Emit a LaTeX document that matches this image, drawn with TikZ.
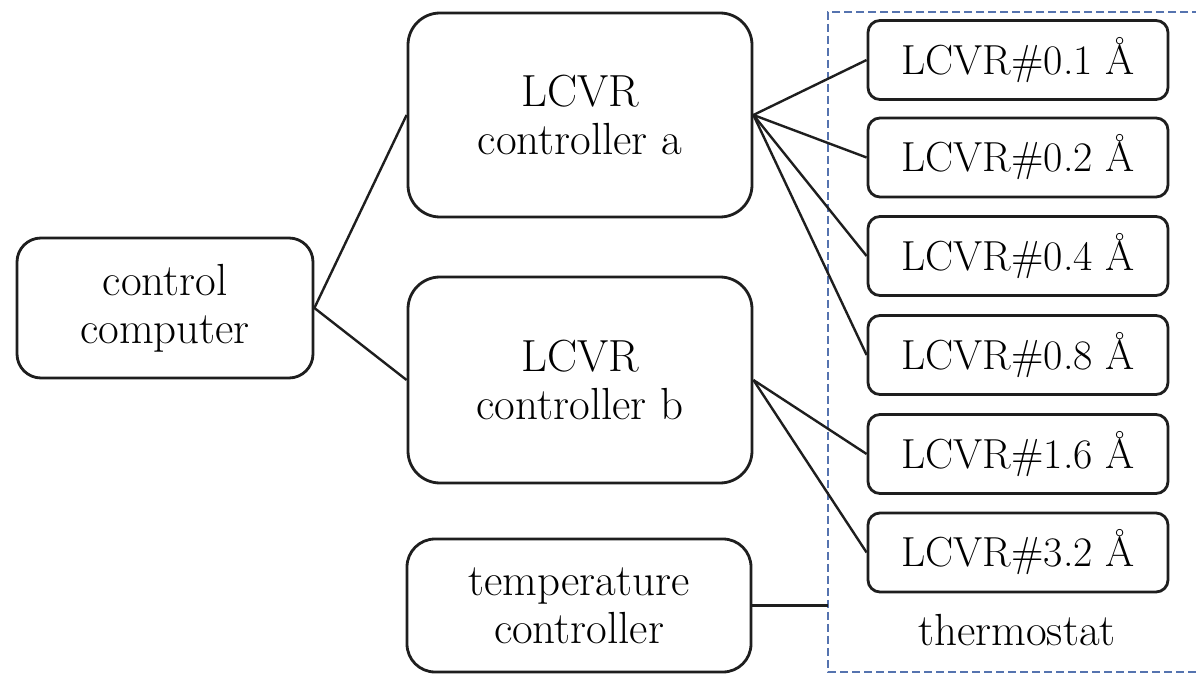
\documentclass[tikz,border=0pt]{standalone}
\usepackage{fontspec}
\definecolor{dashblue}{RGB}{85,115,175}
\definecolor{linegray}{RGB}{30,30,30}
\begin{document}
\begin{tikzpicture}[x=0.5pt,y=-0.5pt,
  txt/.style={font=\fontsize{22.5}{24}\selectfont\addfontfeatures{FakeBold=0.4}, text=black},
  bigbox/.style={txt, draw=linegray, line width=1.4pt, align=center, inner sep=0pt, minimum width=172pt},
  smallbox/.style={txt, font=\fontsize{21}{24}\selectfont\addfontfeatures{FakeBold=0.4},
    draw=linegray, line width=1.4pt, align=center, inner sep=0pt,
    minimum width=150pt, minimum height=39.5pt, rounded corners=6pt},
  conn/.style={draw=linegray, line width=1.2pt},
  dashbox/.style={draw=dashblue, line width=1pt, dash pattern=on 4pt off 2pt}]
\useasboundingbox (0,0) rectangle (1196,674);
\fill[white] (0,0) rectangle (1196,674);

% dashed thermostat frame (right edge outside the picture)
\draw[dashbox] (1200,12) -- (828,12) -- (828,672) -- (1200,672);
\coordinate (frame) at (828,608);

\node[bigbox, minimum width=148pt, minimum height=70pt, rounded corners=12pt] (cc) at (165,308) {control\\computer};
\node[bigbox, minimum height=102pt, rounded corners=16pt] (ca) at (580,115) {LCVR\\controller a};
\node[bigbox, minimum height=103pt, rounded corners=16pt] (cb) at (580,380) {LCVR\\controller b};
\node[bigbox, minimum height=66.5pt, rounded corners=14pt] (tc) at (579,605.5) {temperature\\controller};

\node[smallbox] (l1) at (1018,60) {LCVR\#0.1 \AA};
\node[smallbox] (l2) at (1018,157.5) {LCVR\#0.2 \AA};
\node[smallbox] (l3) at (1018,256) {LCVR\#0.4 \AA};
\node[smallbox] (l4) at (1018,355) {LCVR\#0.8 \AA};
\node[smallbox] (l5) at (1018,454) {LCVR\#1.6 \AA};
\node[smallbox] (l6) at (1018,552.5) {LCVR\#3.2 \AA};

\node[txt, anchor=base] (th) at (1017,645) {thermostat};

\draw[conn] (cc.east) -- (ca.west);
\draw[conn] (cc.east) -- (cb.west);
\foreach \t in {l1,l2,l3,l4} \draw[conn] (ca.east) -- (\t.west);
\foreach \t in {l5,l6} \draw[conn] (cb.east) -- (\t.west);
\draw[conn] (tc.east) -- (tc.east -| frame);
\end{tikzpicture}
\end{document}
